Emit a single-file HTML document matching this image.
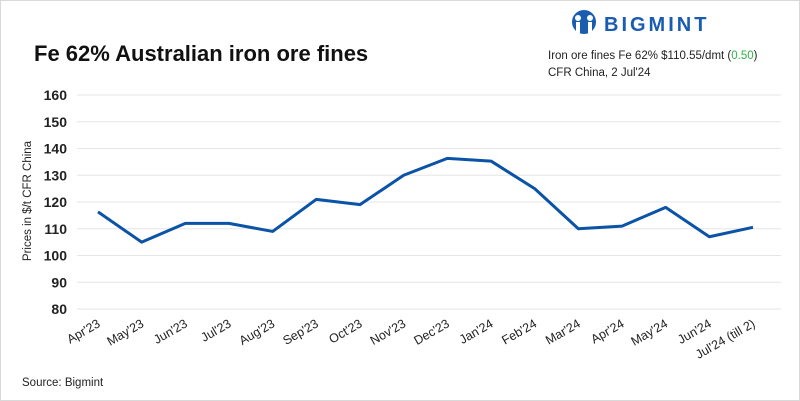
<!DOCTYPE html>
<html><head><meta charset="utf-8"><style>
body{margin:0;background:#fff;font-family:"Liberation Sans",sans-serif}
#wrap{position:relative;width:798px;height:399px;border:1px solid #d9d9d9;overflow:hidden}
</style></head><body>
<div id="wrap">
<svg id="svg" width="798" height="399">
<text x="33" y="60" font-size="22" font-weight="bold" fill="#111">Fe 62% Australian iron ore fines</text>
<g>
<circle cx="583" cy="21" r="12" fill="#1a5cb0"/>
<circle cx="577" cy="17" r="3" fill="#fff"/><circle cx="589" cy="17" r="3" fill="#fff"/>
<rect x="575" y="21" width="4" height="11" fill="#fff"/><rect x="587" y="21" width="4" height="11" fill="#fff"/>
<text x="603" y="30" font-size="20" font-weight="bold" fill="#1a5cb0" letter-spacing="3">BIGMINT</text>
</g>
<text x="547" y="58" font-size="11.5" fill="#222">Iron ore fines Fe 62% $110.55/dmt (<tspan fill="#2db34a">0.50</tspan>)</text>
<text x="547" y="75" font-size="11.5" fill="#222">CFR China, 2 Jul'24</text>
<text transform="translate(30,200) rotate(-90)" text-anchor="middle" font-size="11.5" fill="#222">Prices in $/t CFR China</text>
<text x="21" y="385" font-size="11.5" fill="#222">Source: Bigmint</text>
<g id="grid"></g><g id="xl"></g><g id="yl"></g>
</svg></div>
<script>
const categories=["Apr'23","May'23","Jun'23","Jul'23","Aug'23","Sep'23","Oct'23","Nov'23","Dec'23","Jan'24","Feb'24","Mar'24","Apr'24","May'24","Jun'24","Jul'24 (till 2)"];
const prices=[116.3,105,112,112,109,121,119,130,136.3,135.3,125,110,111,118,107,110.55];
const yTicks=[80,90,100,110,120,130,140,150,160];
const NS="http://www.w3.org/2000/svg";
const svg=document.getElementById('svg');
const x=i=>97+i*(752-97)/(categories.length-1);
const y=v=>308-(v-80)*(308-94)/80;
function mk(t,a,p){const e=document.createElementNS(NS,t);for(const k in a)e.setAttribute(k,a[k]);(p||svg).appendChild(e);return e;}
yTicks.forEach(v=>{
const g=mk('line',{x1:76,x2:780,y1:y(v),y2:y(v),stroke:'#e6e6e6','stroke-width':1},document.getElementById('grid'));


const t=mk('text',{x:66,y:y(v)+5,'text-anchor':'end','font-size':14,'font-weight':'bold',fill:'#222'},document.getElementById('yl'));
t.textContent=v;


});
categories.forEach((c,i)=>{
const t=mk('text',{transform:`translate(${x(i)+3},325) rotate(-30)`,'text-anchor':'end','font-size':12.5,fill:'#222'},document.getElementById('xl'));
t.textContent=c;


});
const line=mk('polyline',{points:prices.map((v,i)=>x(i)+','+y(v)).join(' '),fill:'none',stroke:'#0b53a6','stroke-width':3,'stroke-linejoin':'round'});


</script>
</body></html>
